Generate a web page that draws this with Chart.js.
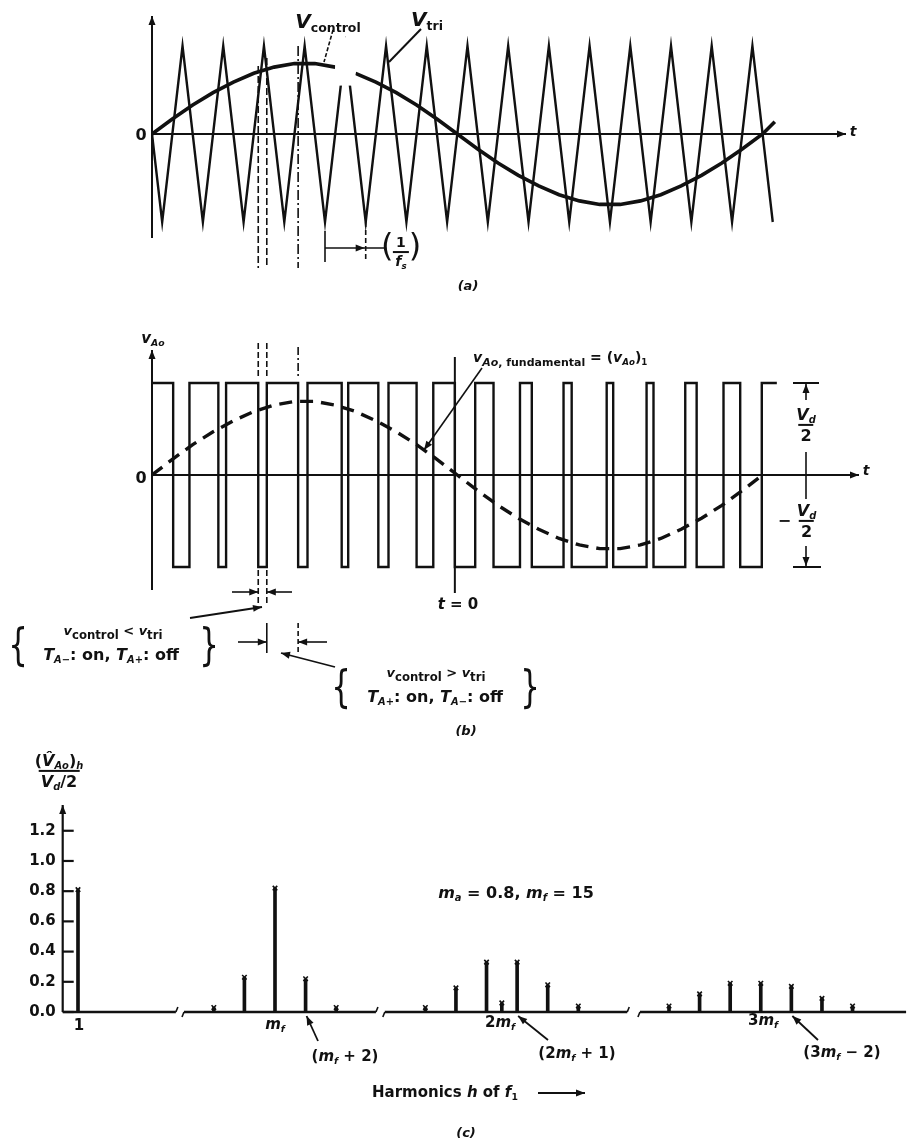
<!DOCTYPE html>
<html>
<head>
<meta charset="utf-8">
<script src="https://cdn.jsdelivr.net/npm/chart.js@4.4.1/dist/chart.umd.min.js"></script>
<style>
  html, body { margin: 0; padding: 0; background: #fff; }
  #page { position: relative; width: 923px; height: 1144px; overflow: hidden; font-family: "DejaVu Sans", sans-serif; color: #111; }
  canvas { position: absolute; left: 0; top: 0; }
  .t { position: absolute; white-space: nowrap; transform: translate(-50%, -50%); line-height: 1; font-weight: bold; }
  .l { transform: translate(0, -50%); }
  sub { font-size: 0.62em; vertical-align: -0.35em; line-height: 0; }
  .frac { display: inline-flex; flex-direction: column; align-items: center; vertical-align: middle; line-height: 1.1; }
  .frac > span + span { border-top: 2px solid #111; padding: 1px 2px 0; }
  .br { font-weight: normal; font-size: 44px; transform: translate(-50%, -50%) scaleX(0.7); }
</style>
</head>
<body>
<div id="page">
  <canvas id="chartA" width="923" height="1144"></canvas>
  <canvas id="chartB" width="923" height="1144"></canvas>
  <canvas id="chartC" width="923" height="1144"></canvas>

  <!-- (a) -->
  <div class="t" style="left:141px;top:135px;font-size:16px">0</div>
  <div class="t" style="left:853px;top:131px;font-size:14px"><i>t</i></div>
  <div class="t" style="left:328px;top:21px;font-size:20px"><i>V</i><sub style="font-size:12.5px">control</sub></div>
  <div class="t" style="left:427px;top:19px;font-size:20px"><i>V</i><sub style="font-size:12.5px">tri</sub></div>
  <div class="t" style="left:401px;top:249px;font-size:14px"><span style="font-size:32px;font-weight:normal">(</span><span class="frac"><span>1</span><span><i>f</i><sub><i>s</i></sub></span></span><span style="font-size:32px;font-weight:normal">)</span></div>
  <div class="t" style="left:468px;top:285px;font-size:13px"><i>(a)</i></div>

  <!-- (b) -->
  <div class="t" style="left:153px;top:338px;font-size:15px"><i>v</i><sub><i>Ao</i></sub></div>
  <div class="t" style="left:141px;top:478px;font-size:16px">0</div>
  <div class="t" style="left:866px;top:470px;font-size:14px"><i>t</i></div>
  <div class="t l" style="left:473px;top:357px;font-size:14px"><i>v</i><sub style="font-size:11px"><i>Ao</i>, fundamental</sub> = (<i>v</i><sub><i>Ao</i></sub>)<sub>1</sub></div>
  <div class="t" style="left:806px;top:425px;font-size:16px"><span class="frac"><span><i>V</i><sub><i>d</i></sub></span><span>2</span></span></div>
  <div class="t" style="left:797px;top:521px;font-size:16px">− <span class="frac"><span><i>V</i><sub><i>d</i></sub></span><span>2</span></span></div>
  <div class="t" style="left:458px;top:604px;font-size:15px"><i>t</i> = 0</div>

  <div class="t br" style="left:18px;top:645px">{</div>
  <div class="t" style="left:113px;top:630px;font-size:13px"><i>v</i><sub style="font-size:0.9em">control</sub> &lt; <i>v</i><sub style="font-size:0.9em">tri</sub></div>
  <div class="t" style="left:111px;top:655px;font-size:16px"><i>T</i><sub><i>A</i>−</sub>: on, <i>T</i><sub><i>A</i>+</sub>: off</div>
  <div class="t br" style="left:209px;top:645px">}</div>

  <div class="t br" style="left:341px;top:687px">{</div>
  <div class="t" style="left:436px;top:672px;font-size:13px"><i>v</i><sub style="font-size:0.9em">control</sub> &gt; <i>v</i><sub style="font-size:0.9em">tri</sub></div>
  <div class="t" style="left:435px;top:697px;font-size:16px"><i>T</i><sub><i>A</i>+</sub>: on, <i>T</i><sub><i>A</i>−</sub>: off</div>
  <div class="t br" style="left:530px;top:687px">}</div>
  <div class="t" style="left:466px;top:730px;font-size:13px"><i>(b)</i></div>

  <!-- (c) -->
  <div class="t" style="left:59px;top:771px;font-size:16px"><span class="frac"><span>(<i>V&#770;</i><sub><i>Ao</i></sub>)<sub><i>h</i></sub></span><span><i>V</i><sub><i>d</i></sub>/2</span></span></div>
  <div class="t" style="left:516px;top:893px;font-size:16px"><i>m</i><sub><i>a</i></sub> = 0.8, <i>m</i><sub><i>f</i></sub> = 15</div>
  <div class="t" style="left:79px;top:1025px;font-size:15px">1</div>
  <div class="t" style="left:275px;top:1024px;font-size:15px"><i>m</i><sub><i>f</i></sub></div>
  <div class="t" style="left:500px;top:1022px;font-size:15px">2<i>m</i><sub><i>f</i></sub></div>
  <div class="t" style="left:763px;top:1020px;font-size:15px">3<i>m</i><sub><i>f</i></sub></div>
  <div class="t" style="left:345px;top:1056px;font-size:15px">(<i>m</i><sub><i>f</i></sub> + 2)</div>
  <div class="t" style="left:577px;top:1053px;font-size:15px">(2<i>m</i><sub><i>f</i></sub> + 1)</div>
  <div class="t" style="left:842px;top:1052px;font-size:15px">(3<i>m</i><sub><i>f</i></sub> − 2)</div>
  <div class="t l" style="left:372px;top:1092px;font-size:15px">Harmonics <i>h</i> of <i>f</i><sub>1</sub></div>
  <div class="t" style="left:466px;top:1132px;font-size:13px"><i>(c)</i></div>
</div>

<script>
const INK = '#111';

// (a) carrier triangle vertices, time in carrier periods, value in units of V_tri peak
const triT = [0, 0.25, 0.75, 1.25, 1.75, 2.25, 2.75, 3.25, 3.75, 4.25, 4.75, 5.25, 5.75, 6.25, 6.75, 7.25,
              7.75, 8.25, 8.75, 9.25, 9.75, 10.25, 10.75, 11.25, 11.75, 12.25, 12.75, 13.25, 13.75, 14.25, 14.75, 15.25];
const triV = [0, -1, 1, -1, 1, -1, 1, -1, 1, -1, 1, -1, 1, -1, 1, -1,
              1, -1, 1, -1, 1, -1, 1, -1, 1, -1, 1, -1, 1, -1, 1, -1];

// control sine (a) and fundamental (b)
const ctrlT = [0, 0.5, 1, 1.5, 2, 2.5, 3, 3.5, 4, 4.5, 5, 5.5, 6, 6.5, 7, 7.5,
               8, 8.5, 9, 9.5, 10, 10.5, 11, 11.5, 12, 12.5, 13, 13.5, 14, 14.5, 15];
const ctrlV = [0, 0.17, 0.33, 0.47, 0.59, 0.69, 0.76, 0.80, 0.80, 0.76, 0.69, 0.59, 0.47, 0.33, 0.17, 0,
               -0.17, -0.33, -0.47, -0.59, -0.69, -0.76, -0.80, -0.80, -0.76, -0.69, -0.59, -0.47, -0.33, -0.17, 0];
const ctrlTailT = [15.3];
const ctrlTailV = [0.14];
const ctrlGapFrom = 4.5;   // label gap in V_control

// (b) v_Ao switching instants and level after each instant (units of Vd/2)
const sqT = [0, 0.52, 0.92, 1.63, 1.82, 2.61, 2.82, 3.59, 3.82, 4.66, 4.82, 5.56, 5.81, 6.50, 6.91, 7.44,
             7.94, 8.39, 9.04, 9.33, 10.11, 10.31, 11.17, 11.33, 12.15, 12.32, 13.10, 13.38, 14.04, 14.45, 14.98, 15.35];
const sqV = [1, -1, 1, -1, 1, -1, 1, -1, 1, -1, 1, -1, 1, -1, 1, -1,
             1, -1, 1, -1, 1, -1, 1, -1, 1, -1, 1, -1, 1, -1, 1, 1];

// (c) harmonic spectrum, four groups on a broken axis
const harmH = [[1], [11, 13, 15, 17, 19], [25, 27, 29, 30, 31, 33, 35], [39, 41, 43, 45, 47, 49, 51]];
const harmV = [[0.81], [0.03, 0.23, 0.82, 0.22, 0.03], [0.03, 0.16, 0.33, 0.06, 0.33, 0.18, 0.04],
               [0.04, 0.12, 0.19, 0.19, 0.17, 0.09, 0.04]];
const yTicks = [0, 0.2, 0.4, 0.6, 0.8, 1.0, 1.2];
const segMin = [0, 1.12, 1.29, -0.64];
const hSpan = 55.2;
const segRange = [[0, 7.4], [9.05, 21.6], [22.35, 38.2], [37.1, 54.5]];

const pts = (xs, ys) => xs.map((x, i) => ({ x: x, y: ys[i] }));

function seg(ctx, x1, y1, x2, y2, w, dash) {
  ctx.save();
  ctx.strokeStyle = INK;
  ctx.lineWidth = w || 2;
  ctx.setLineDash(dash || []);
  ctx.beginPath();
  ctx.moveTo(x1, y1);
  ctx.lineTo(x2, y2);
  ctx.stroke();
  ctx.restore();
}
function head(ctx, x1, y1, x2, y2, len, half) {
  const a = Math.atan2(y2 - y1, x2 - x1);
  const c = Math.cos(a), s = Math.sin(a);
  ctx.save();
  ctx.fillStyle = INK;
  ctx.beginPath();
  ctx.moveTo(x2, y2);
  ctx.lineTo(x2 - len * c + half * s, y2 - len * s - half * c);
  ctx.lineTo(x2 - len * c - half * s, y2 - len * s + half * c);
  ctx.closePath();
  ctx.fill();
  ctx.restore();
}
function arrow(ctx, x1, y1, x2, y2, w) {
  seg(ctx, x1, y1, x2, y2, w);
  head(ctx, x1, y1, x2, y2, 9, 3.5);
}

const baseOpts = (pad) => ({
  responsive: false,
  animation: false,
  events: [],
  layout: { padding: pad },
  plugins: { legend: { display: false }, tooltip: { enabled: false } }
});

// ---------- (a) ----------
const decoA = {
  id: 'decoA',
  afterDatasetsDraw(chart) {
    const { ctx, scales: { x, y } } = chart;
    // paper gap under the V_control label
    ctx.save();
    ctx.fillStyle = '#fff';
    const gx0 = x.getPixelForValue(4.5), gx1 = x.getPixelForValue(5.0);
    const gy0 = y.getPixelForValue(1.1), gy1 = y.getPixelForValue(0.55);
    ctx.fillRect(gx0, gy0, gx1 - gx0, gy1 - gy0);
    ctx.restore();

    const x0 = x.getPixelForValue(0), y0 = y.getPixelForValue(0);
    arrow(ctx, x0, 238, x0, 16, 2);
    arrow(ctx, x0, y0, 846, y0, 2.2);

    // switching instants
    seg(ctx, x.getPixelForValue(sqT[5]), 66, x.getPixelForValue(sqT[5]), 268, 1.6, [7, 3]);
    seg(ctx, x.getPixelForValue(sqT[6]), 58, x.getPixelForValue(sqT[6]), 268, 1.6, [7, 3]);
    seg(ctx, x.getPixelForValue(sqT[7]), 46, x.getPixelForValue(sqT[7]), 268, 1.6, [10, 3, 2, 3]);

    // 1/fs
    const p1 = x.getPixelForValue(triT[9]), p2 = x.getPixelForValue(triT[11]);
    seg(ctx, p1, 231, p1, 262, 1.6);
    seg(ctx, p2, 222, p2, 262, 1.6, [5, 3]);
    seg(ctx, p1, 248, 384, 248, 1.6);
    head(ctx, p1, 248, p2 - 1, 248, 9, 3.5);

    // label leaders
    seg(ctx, 421, 29, 389, 62, 2);
    seg(ctx, 333, 30, 324, 62, 1.6, [4, 2]);
  }
};

new Chart(document.getElementById('chartA'), {
  type: 'scatter',
  data: {
    datasets: [
      { data: pts(triT, triV), showLine: true, borderColor: INK, borderWidth: 2.4, pointRadius: 0 },
      {
        data: pts(ctrlT.concat(ctrlTailT), ctrlV.concat(ctrlTailV)), showLine: true, borderColor: INK,
        borderWidth: 3.6, pointRadius: 0,
        segment: { borderColor: c => (c.p0DataIndex === ctrlT.indexOf(ctrlGapFrom) ? 'rgba(0,0,0,0)' : INK) }
      }
    ]
  },
  options: Object.assign(baseOpts({ left: 152, right: 79, top: 19.6, bottom: 895.6 }), {
    scales: {
      x: { type: 'linear', min: 0, max: 17, display: false },
      y: { type: 'linear', min: -1.3, max: 1.3, display: false }
    }
  }),
  plugins: [decoA]
});

// ---------- (b) ----------
const decoB = {
  id: 'decoB',
  afterDatasetsDraw(chart) {
    const { ctx, scales: { x, y } } = chart;
    const x0 = x.getPixelForValue(0), y0 = y.getPixelForValue(0);
    arrow(ctx, x0, 590, x0, 350, 2);
    arrow(ctx, x0, y0, 859, y0, 2.2);

    // t = 0 marker
    const tz = x.getPixelForValue(sqT[15]);
    seg(ctx, tz, 357, tz, 593, 2);

    const e1 = x.getPixelForValue(sqT[5]), e2 = x.getPixelForValue(sqT[6]), e3 = x.getPixelForValue(sqT[7]);
    seg(ctx, e1, 343, e1, 378, 1.6, [6, 3]);
    seg(ctx, e2, 343, e2, 378, 1.6, [6, 3]);
    seg(ctx, e3, 347, e3, 378, 1.6, [8, 3, 2, 3]);

    seg(ctx, e1, 570, e1, 606, 1.6, [6, 3]);
    seg(ctx, e2, 570, e2, 606, 1.6, [6, 3]);
    arrow(ctx, 232, 592, e1, 592, 1.6);
    arrow(ctx, 292, 592, e2, 592, 1.6);

    seg(ctx, e2, 623, e2, 653, 1.6);
    seg(ctx, e3, 623, e3, 653, 1.6, [5, 3]);
    arrow(ctx, 238, 642, e2, 642, 1.6);
    arrow(ctx, 327, 642, e3, 642, 1.6);

    arrow(ctx, 190, 618, 262, 607, 1.8);
    arrow(ctx, 335, 667, 281, 653, 1.8);
    arrow(ctx, 482, 368, 424, 450, 1.6);

    // +/- Vd/2 dimension
    const xv = 806, yh = y.getPixelForValue(1), yl = y.getPixelForValue(-1);
    seg(ctx, 793, yh, 819, yh, 2);
    arrow(ctx, xv, 400, xv, yh + 1, 1.6);
    seg(ctx, xv, 452, xv, 499, 1.6);
    arrow(ctx, xv, 546, xv, yl - 1, 1.6);
    seg(ctx, 793, yl, 821, yl, 2);
  }
};

new Chart(document.getElementById('chartB'), {
  type: 'scatter',
  data: {
    datasets: [
      { data: pts(sqT, sqV), showLine: true, stepped: 'before', borderColor: INK, borderWidth: 2.4, pointRadius: 0 },
      { data: pts(ctrlT, ctrlV), showLine: true, borderColor: INK, borderWidth: 3.4, borderDash: [13, 8], pointRadius: 0 }
    ]
  },
  options: Object.assign(baseOpts({ left: 152, right: 79, top: 355.4, bottom: 549.4 }), {
    scales: {
      x: { type: 'linear', min: 0, max: 17, display: false },
      y: { type: 'linear', min: -1.3, max: 1.3, display: false }
    }
  }),
  plugins: [decoB]
});

// ---------- (c) ----------
const decoC = {
  id: 'decoC',
  afterDatasetsDraw(chart) {
    const { ctx, scales } = chart;
    const y = scales.y;
    const xa = y.right, yb = y.getPixelForValue(0);
    arrow(ctx, xa, yb, xa, 805, 2.2);
    yTicks.forEach(v => seg(ctx, xa, y.getPixelForValue(v), xa + 11, y.getPixelForValue(v), 2.2));

    segRange.forEach((r, g) => {
      const sc = scales['x' + g];
      const a = sc.getPixelForValue(r[0]), b = sc.getPixelForValue(r[1]);
      seg(ctx, a, yb, b, yb, 2.4);
      if (g > 0) seg(ctx, a, yb, a - 2, yb + 5, 1.6);
      if (g < segRange.length - 1) seg(ctx, b, yb, b + 2, yb - 5, 1.6);
    });

    const tip = (g, h) => [scales['x' + g].getPixelForValue(h) + 1, yb + 4];
    let p = tip(1, 17); arrow(ctx, 318, 1041, p[0], p[1], 1.8);
    p = tip(2, 31); arrow(ctx, 548, 1040, p[0], p[1], 1.8);
    p = tip(3, 47); arrow(ctx, 818, 1040, p[0], p[1], 1.8);

    arrow(ctx, 538, 1093, 585, 1093, 1.8);
  }
};

const cSets = [];
const cScales = {};
harmH.forEach((hs, g) => {
  cSets.push({ type: 'bar', xAxisID: 'x' + g, data: pts(hs, harmV[g]), backgroundColor: INK, barThickness: 3, grouped: false });
  cSets.push({ type: 'scatter', xAxisID: 'x' + g, data: pts(hs, harmV[g]), pointStyle: 'crossRot', pointRadius: 3.2,
               borderColor: INK, borderWidth: 1.6 });
  cScales['x' + g] = { type: 'linear', axis: 'x', display: false, offset: false, min: segMin[g], max: segMin[g] + hSpan };
});
cScales.y = {
  type: 'linear', position: 'left', min: 0, max: 1.36,
  afterFit: s => { s.width = 62.7; },
  afterBuildTicks: s => { s.ticks = yTicks.map(v => ({ value: v })); },
  grid: { display: false, drawTicks: false },
  border: { display: false },
  ticks: { color: INK, padding: 7, font: { family: 'DejaVu Sans', size: 15, weight: 'bold' }, callback: v => v.toFixed(1) }
};

new Chart(document.getElementById('chartC'), {
  type: 'scatter',
  data: { datasets: cSets },
  options: Object.assign(baseOpts({ left: 0, right: 16, top: 806.6, bottom: 132 }), { scales: cScales }),
  plugins: [decoC]
});
</script>
</body>
</html>
